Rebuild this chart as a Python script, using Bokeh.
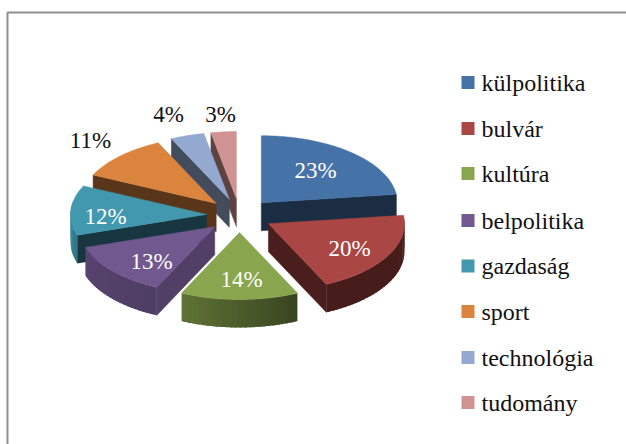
import math
from bokeh.plotting import figure
from bokeh.models import Range1d
from bokeh.core.properties import value
from bokeh.embed import file_html
from bokeh.resources import INLINE

# --- data ---
categories = ["külpolitika", "bulvár", "kultúra", "belpolitika", "gazdaság", "sport", "technológia", "tudomány"]
values = [23, 20, 14, 13, 12, 11, 4, 3]
colors = ["#4572A7", "#AA4643", "#89A54E", "#71588F", "#4198AF", "#DB843D", "#93A9CF", "#D19392"]

# --- layout (window pixels) ---
W, H = 626, 444
CX, CY = 239, 215      # pie centre
RX, RY = 136, 67       # top ellipse radii
EX, EY = 33, 17        # explosion
DEPTH = 28             # pie thickness
LABEL_POS = [(315, 170), (349, 248), (241, 279), (151, 261), (105, 216), (90, 140), (168, 114), (220, 114)]
LABEL_COL = ["white"] * 5 + ["#111111"] * 3
LEG_Y = [82, 128, 173, 220, 265.5, 311, 357, 402]
CUT_SHADE = [0.40, 0.43, 0.40, 0.72, 0.36, 0.41, 0.45, 0.45]
SHADE_ANGLE = [80, 155, 205, 252, 295, 360]
SHADE_VAL = [0.42, 0.42, 0.70, 0.78, 0.98, 0.9]

def shade(hexc, f):
    r, g, b = int(hexc[1:3], 16), int(hexc[3:5], 16), int(hexc[5:7], 16)
    return "#%02x%02x%02x" % (int(r * f), int(g * f), int(b * f))

def wall_factor(t):
    for i in range(len(SHADE_ANGLE) - 1):
        a, b = SHADE_ANGLE[i], SHADE_ANGLE[i + 1]
        if a <= t <= b:
            return SHADE_VAL[i] + (SHADE_VAL[i + 1] - SHADE_VAL[i]) * (t - a) / (b - a)
    return SHADE_VAL[0]

p = figure(width=W, height=H, output_backend="svg", toolbar_location=None,
           x_range=Range1d(0, W), y_range=Range1d(H, 0),
           min_border=0, outline_line_color=None, background_fill_color="white",
           border_fill_color="white", x_axis_type=None, y_axis_type=None)
p.grid.visible = False

# frame
p.line([7, 7, W], [H, 12, 12], line_color="#8f8f8f", line_width=2)

total = sum(values)
slices = []
acc = 0.0
for i, v in enumerate(values):
    a0 = acc / total * 360
    acc += v
    a1 = acc / total * 360
    mid = (a0 + a1) / 2
    ax = CX + EX * math.sin(math.radians(mid))
    ay = CY - EY * math.cos(math.radians(mid))
    slices.append(dict(i=i, a0=a0, a1=a1, ax=ax, ay=ay, my=ay - RY * 0.5 * math.cos(math.radians(mid))))

def pt(s, t, d=0):
    r = math.radians(t)
    return s["ax"] + RX * math.sin(r), s["ay"] - RY * math.cos(r) + d

def face(s, t, col):
    x1, y1 = pt(s, t)
    xs = [s["ax"], x1, x1, s["ax"]]
    ys = [s["ay"], y1, y1 + DEPTH, s["ay"] + DEPTH]
    p.patch(xs, ys, fill_color=col, line_color=col, line_width=0.5)

for s in sorted(slices, key=lambda q: q["my"]):
    c = colors[s["i"]]
    a0, a1 = s["a0"], s["a1"]
    dark = shade(c, CUT_SHADE[s["i"]])
    # cut faces turned toward the viewer
    if math.cos(math.radians(a0 - 90)) < -1e-6:
        face(s, a0, dark)
    if math.cos(math.radians(a1 + 90)) < -1e-6:
        face(s, a1, dark)
    # outer wall, as shaded strips that overlap so no seams show
    n = max(2, int((a1 - a0) / 2))
    for k in range(n):
        t0 = a0 + (a1 - a0) * k / n
        t1 = min(a1, a0 + (a1 - a0) * (k + 1.6) / n)
        tm = a0 + (a1 - a0) * (k + 0.5) / n
        if not (80 < tm < 280):
            continue
        xs, ys = [], []
        for j in range(4):
            q = pt(s, t0 + (t1 - t0) * j / 3)
            xs.append(q[0]); ys.append(q[1])
        xs2 = xs + xs[::-1]
        ys2 = ys + [y + DEPTH for y in ys[::-1]]
        col = shade(c, wall_factor(tm))
        p.patch(xs2, ys2, fill_color=col, line_color=None)
    # top face
    m = max(2, int(a1 - a0))
    arc = [pt(s, a0 + (a1 - a0) * k / m) for k in range(m + 1)]
    p.patch([s["ax"]] + [q[0] for q in arc], [s["ay"]] + [q[1] for q in arc],
            fill_color=c, line_color=c, line_width=0.5)

# percentage labels
for v, (x, y), col in zip(values, LABEL_POS, LABEL_COL):
    p.text([x], [y], text=[f"{v}%"], text_font=value("Liberation Serif"), text_font_size="23px",
           text_color=col, text_align="center", text_baseline="middle")

# legend
for name, col, y in zip(categories, colors, LEG_Y):
    p.quad(left=[461], right=[474], top=[y - 6.5], bottom=[y + 6.5], fill_color=col, line_color=None)
    p.text([481], [y], text=[name], text_font=value("Liberation Serif"), text_font_size="24px",
           text_color="#111111", text_align="left", text_baseline="middle")

open("out.html", "w").write(file_html(p, INLINE))
